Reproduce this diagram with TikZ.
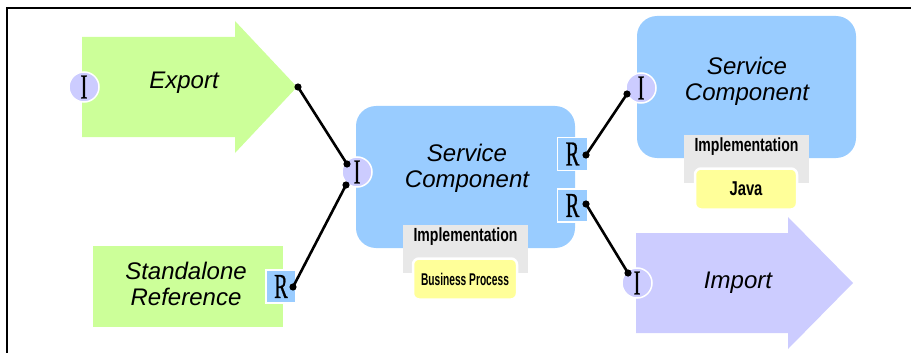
\documentclass[tikz,border=0pt]{standalone}
\usepackage{fontspec}
\setmainfont{Liberation Sans}
\newfontfamily\portfont[FakeStretch=0.58,FakeBold=0.6]{Liberation Serif}
\newfontfamily\implfont[FakeStretch=0.74]{Liberation Sans}
\newfontfamily\procfont[FakeStretch=0.6]{Liberation Sans}
\definecolor{compblue}{HTML}{99CCFF}
\definecolor{bindgreen}{HTML}{CCFF99}
\definecolor{portlilac}{HTML}{CCCCFF}
\definecolor{implgray}{HTML}{E8E8E8}
\definecolor{langyellow}{HTML}{FFFF99}
\usetikzlibrary{positioning}

\begin{document}
\begin{tikzpicture}[x=1pt,y=1pt,yscale=-1,
		iport/.style={circle,fill=portlilac,draw=white,line width=1.5pt,minimum size=30pt,inner sep=0pt,font=\portfont\fontsize{35}{35}\selectfont},
		rport/.style={rectangle,fill=compblue,draw=white,line width=1.5pt,minimum width=30pt,minimum height=33pt,inner sep=0pt,font=\portfont\fontsize{35}{35}\selectfont},
		comp/.style={rectangle,rounded corners=20pt,fill=compblue,minimum width=219pt,minimum height=142pt},
		captext/.style={font=\itshape\fontsize{24}{26}\selectfont,align=center,inner sep=0pt},
		implbox/.style={rectangle,fill=implgray,minimum width=125pt,minimum height=48pt,inner sep=0pt},
		langbox/.style={rectangle,fill=langyellow,draw=white,line width=2.5pt,rounded corners=6pt,minimum width=104pt,minimum height=41pt,inner sep=0pt},
		wire/.style={line width=2.6pt,black}]
		\useasboundingbox (0,0) rectangle (911,353);
		
		%Frame
		\draw [line width=1.2pt] (7,353) -- (7,8) -- (911,8) ;
		
		%Shape: Export arrow
		\fill [bindgreen] (82,37) -- (235,37) -- (235,21) -- (297,87) -- (235,153) -- (235,137) -- (82,137) -- cycle ;
		%Shape: Standalone reference
		\fill [bindgreen] (93,246) rectangle (283,327) ;
		%Shape: Import arrow
		\fill [portlilac] (636,233) -- (788,233) -- (788,217) -- (853,283) -- (788,349) -- (788,333) -- (636,333) -- cycle ;
		
		%Shape: components
		\node [comp] (comp) at (465.5,177) {};
		\node [comp] (javacomp) at (746.5,87) {};
		
		%Shape: implementations
		\node [implbox] (impl) at (465.5,249) {};
		\node [langbox] (bpel) at (465,279) {\procfont\bfseries\fontsize{17}{17}\selectfont Business Process};
		\node [implbox] (javaimpl) at (746.5,159) {};
		\node [langbox, minimum width=102pt] (java) at (746,189) {\implfont\bfseries\fontsize{20}{20}\selectfont Java};
		
		% Text Node
		\node [font=\implfont\bfseries\fontsize{19}{19}\selectfont] at (465.5,237) {Implementation};
		% Text Node
		\node [font=\implfont\bfseries\fontsize{19}{19}\selectfont] at (746.5,147) {Implementation};
		
		% Text Node
		\node [captext] (exptext) at (184,83) {Export};
		% Text Node
		\node [captext] (sreftext) at (186,284) {Standalone\\Reference};
		% Text Node
		\node [captext] (comptext) at (467,168) {Service\\Component};
		% Text Node
		\node [captext] (javatext) at (747,81) {Service\\Component};
		% Text Node
		\node [captext] (imptext) at (738,283) {Import};
		
		%Ports
		\node [iport] (expI) at (84,87) {I};
		\node [rport] (srefR) at (281,286.5) {R};
		\node [iport] (compI) at (357,172) {I};
		\node [rport] (compR1) at (572.5,154) {R};
		\node [rport] (compR2) at (572.5,205.5) {R};
		\node [iport] (javaI) at (641,88) {I};
		\node [iport] (impI) at (637,283) {I};
		
		%Wire ends
		\coordinate (expEnd) at (298,87);
		\coordinate (compIn1) at (347,164);
		\coordinate (srefEnd) at (293,287);
		\coordinate (compIn2) at (346,185);
		\coordinate (compOut1) at (586,155);
		\coordinate (javaIn) at (627,94);
		\coordinate (compOut2) at (586,204);
		\coordinate (impIn) at (628,273);
		
		%Straight Lines
		\draw [wire] (expEnd) -- (compIn1) ;
		\draw [wire] (srefEnd) -- (compIn2) ;
		\draw [wire] (compOut1) -- (javaIn) ;
		\draw [wire] (compOut2) -- (impIn) ;
		\foreach \c in {expEnd,compIn1,srefEnd,compIn2,compOut1,javaIn,compOut2,impIn}
			\fill (\c) circle (3.6) ;
		
\end{tikzpicture}
\end{document}
